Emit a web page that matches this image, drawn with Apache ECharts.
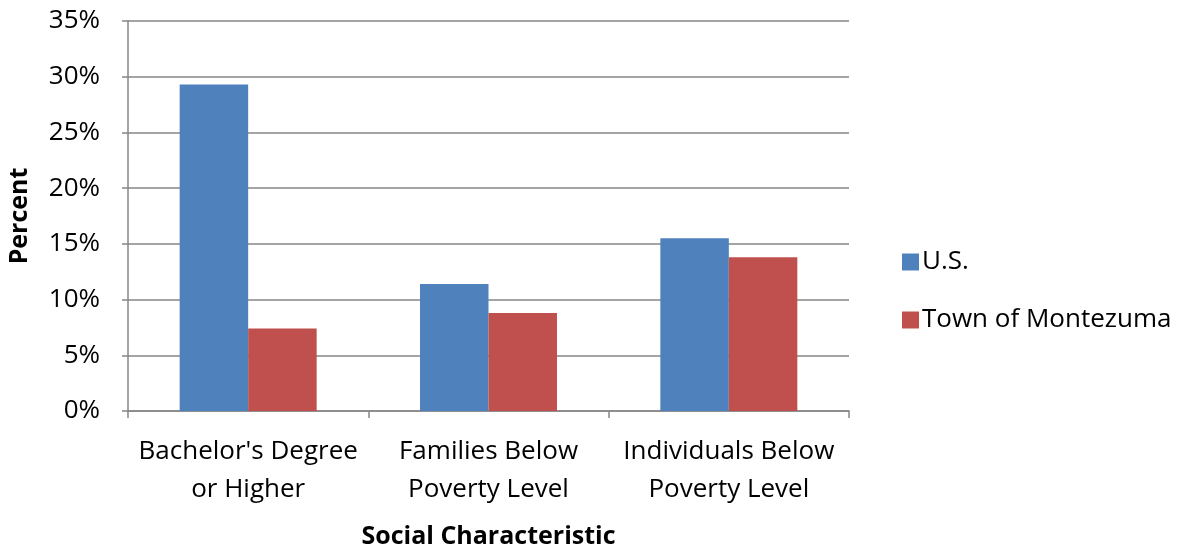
<!DOCTYPE html>
<html><head><meta charset="utf-8">
<script src="https://cdn.jsdelivr.net/npm/echarts@6/dist/echarts.min.js"></script>
<style>html,body{margin:0;padding:0;background:#fff}#c{width:1186px;height:548px}</style>
</head><body><div id="c"></div>
<script>
const categories = ["Bachelor's Degree\nor Higher", "Families Below\nPoverty Level", "Individuals Below\nPoverty Level"];
const usValues = [29.3, 11.4, 15.5];
const townValues = [7.4, 8.8, 13.8];
const seriesNames = ["U.S.", "Town of Montezuma"];
const FONT = "Open Sans";
const FS = 26;
const FSB = 25;
const chart = echarts.init(document.getElementById('c'), null, {renderer: 'canvas'});
chart.setOption({
  animation: false,
  textStyle: {fontFamily: FONT},
  grid: {left: 128, right: 337, top: 21, bottom: 137, containLabel: false, outerBoundsMode: 'none'},
  legend: {
    orient: 'vertical', left: 897, top: 244, itemWidth: 17, itemHeight: 17, itemGap: 32,
    icon: 'rect',
    textStyle: {fontFamily: FONT, fontSize: FS, lineHeight: 26, color: '#000', padding: [0,0,0,-2]},
    data: seriesNames
  },
  xAxis: {
    type: 'category', data: categories,
    name: 'Social Characteristic', nameLocation: 'middle', nameGap: 113,
    nameTextStyle: {fontFamily: FONT, fontSize: FSB, fontWeight: 'bold', color: '#000'},
    axisLine: {lineStyle: {color: '#868686', width: 1.5}},
    axisTick: {show: true, length: 7, lineStyle: {color: '#868686', width: 1.5}},
    axisLabel: {fontFamily: FONT, fontSize: FS, color: '#000', lineHeight: 38, margin: 22, interval: 0},
    splitLine: {show: false}
  },
  yAxis: {
    type: 'value', min: 0, max: 35, interval: 5,
    name: 'Percent', nameLocation: 'middle', nameGap: 96, nameRotate: 90,
    nameTextStyle: {fontFamily: FONT, fontSize: FSB, fontWeight: 'bold', color: '#000'},
    axisLine: {show: true, lineStyle: {color: '#868686', width: 1.5}},
    axisTick: {show: true, length: 6, lineStyle: {color: '#868686', width: 1.5}},
    axisLabel: {fontFamily: FONT, fontSize: FS, color: '#000', margin: 28, formatter: v => v + '%'},
    splitLine: {show: true, lineStyle: {color: '#868686', width: 1.5}}
  },
  series: [
    {name: seriesNames[0], type: 'bar', data: usValues, barGap: '0%', barCategoryGap: '43%',
     itemStyle: {color: '#4F81BD'}},
    {name: seriesNames[1], type: 'bar', data: townValues, barGap: '0%', barCategoryGap: '43%',
     itemStyle: {color: '#C0504D'}}
  ]
});
</script></body></html>
